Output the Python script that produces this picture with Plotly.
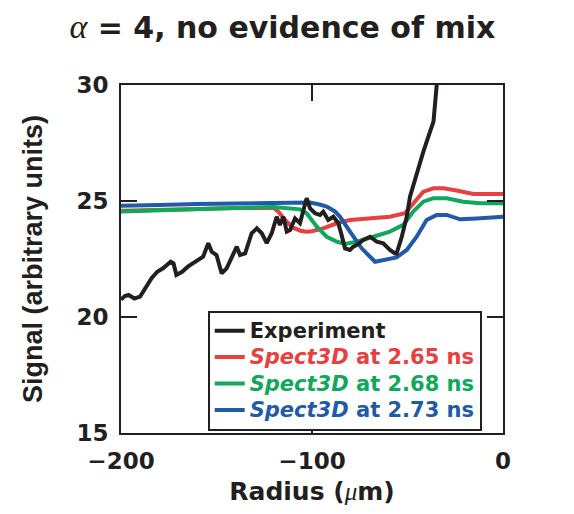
import plotly.graph_objects as go

# experimento (preto)
exp_x = [-200, -198, -196, -193, -190, -187, -184, -181, -178, -174, -172.5, -171, -168, -165, -161, -157,
         -154.3, -152.5, -150, -147.3, -144.7, -142, -139.4, -137.7, -135, -131.6, -128.9, -126.3, -123.7,
         -121.1, -118.5, -116.8, -115, -113.2, -111.5, -108.9, -106.3, -102.8, -101, -98.4, -95.8, -94.1,
         -91.5, -88.8, -86.2, -84.5, -82.7, -80.1, -78.4, -76.6, -73.1, -69.6, -66.1, -62.7, -59.2, -56.5,
         -55.7, -53, -50.4, -48.7, -47, -44.3, -41.7, -38.2, -36.4, -34.7, -34]
exp_y = [20.75, 20.9, 20.95, 20.8, 20.88, 21.3, 21.67, 21.95, 22.1, 22.38, 22.31, 21.81, 21.95, 22.17, 22.38, 22.6,
         23.18, 22.81, 22.67, 21.88, 22.1, 22.53, 23.03, 22.67, 22.74, 23.61, 23.82, 23.61, 23.18,
         23.61, 24.32, 23.97, 24.32, 23.68, 23.75, 24.25, 24.04, 25.12, 24.68, 24.47, 24.4, 24.54,
         24.18, 24.32, 24.04, 23.53, 22.96, 22.89, 23.03, 23.1, 23.32, 23.46, 23.25, 23.18, 22.89, 22.74,
         22.74, 23.46, 24.32, 25.19, 25.7, 26.41, 27.13, 27.99, 28.42, 30.0, 30.5]

# Spect3D 2.65 ns (vermelho)
r265_x = [-200, -180, -160, -140, -125, -120, -117.6, -114.1, -110, -106, -103, -100, -94.1, -87.1, -80.1,
          -68, -59.2, -51.3, -47, -41.7, -36.4, -31.2, -24.3, -15.5, -8, 0]
r265_y = [24.58, 24.6, 24.65, 24.7, 24.72, 24.7, 24.54, 24.18, 23.85, 23.72, 23.68, 23.7, 23.82, 24.04, 24.18,
          24.25, 24.32, 24.47, 24.9, 25.4, 25.55, 25.55, 25.45, 25.3, 25.3, 25.3]

# Spect3D 2.68 ns (verde)
r268_x = [-200, -190, -180, -160, -140, -120, -111.5, -106.3, -102.8, -97.5, -92.3, -87.1, -82.7, -76.6,
          -67.9, -59.2, -52.2, -47, -41.7, -36.4, -29.5, -20.8, -12, 0]
r268_y = [24.55, 24.58, 24.6, 24.65, 24.7, 24.74, 24.7, 24.64, 24.47, 23.89, 23.46, 23.25, 23.15, 23.25,
          23.46, 23.68, 23.97, 24.54, 24.97, 25.12, 25.12, 24.97, 24.9, 24.9]

# Spect3D 2.73 ns (azul)
r273_x = [-200, -190, -180, -160, -140, -120, -105, -101, -96, -92.3, -88, -85.3, -80.1, -74, -67, -60.9,
          -55.7, -50.4, -45.2, -40, -34.7, -29.5, -22.5, -13.8, 0]
r273_y = [24.8, 24.8, 24.83, 24.87, 24.9, 24.93, 24.96, 24.93, 24.85, 24.76, 24.55, 24.32, 23.68, 22.96,
          22.38, 22.46, 22.57, 22.89, 23.46, 24.18, 24.4, 24.4, 24.21, 24.25, 24.32]

preto = '#231f20'
vermelho = '#e8403f'
verde = '#10a85a'
azul = '#1f5aab'
fonte = 'DejaVu Sans'
serif = "font-family:Liberation Serif;font-weight:normal"

# texto da legenda maior que a fonte da legenda, para as linhas ficarem mais juntas
def nome(cor, texto):
    return "<span style='color:%s;font-size:21px'>%s</span>" % (cor, texto)

fig = go.Figure()
fig.add_trace(go.Scatter(x=r265_x, y=r265_y, mode='lines', name=nome(vermelho, '<i>Spect3D</i> at 2.65 ns'),
                         line=dict(color=vermelho, width=4), legendrank=2))
fig.add_trace(go.Scatter(x=r268_x, y=r268_y, mode='lines', name=nome(verde, '<i>Spect3D</i> at 2.68 ns'),
                         line=dict(color=verde, width=4), legendrank=3))
fig.add_trace(go.Scatter(x=r273_x, y=r273_y, mode='lines', name=nome(azul, '<i>Spect3D</i> at 2.73 ns'),
                         line=dict(color=azul, width=4), legendrank=4))
fig.add_trace(go.Scatter(x=exp_x, y=exp_y, mode='lines', name=nome(preto, 'Experiment'),
                         line=dict(color=preto, width=4), legendrank=1))

# a pagina tem 8px de margem no body, por isso tudo deslocado 8px
fig.update_layout(
    width=574, height=514,
    margin=dict(l=113, r=79, t=77, b=89),
    paper_bgcolor='white', plot_bgcolor='white',
    font=dict(family=fonte, color=preto, size=20, weight='bold'),
    title=dict(text="<span style='%s;font-size:34px'><i>α</i></span> = 4, no evidence of mix" % serif,
               x=0.478, xanchor='center', y=0.962, yanchor='middle',
               font=dict(family=fonte, size=30, weight='bold', color=preto)),
    showlegend=True,
    legend=dict(x=0.227, y=0.352, xanchor='left', yanchor='top',
                bgcolor='white', bordercolor=preto, borderwidth=2,
                font=dict(family=fonte, size=18, weight='bold', color=preto),
                tracegroupgap=0, itemwidth=30),
)

fig.update_xaxes(range=[-200, 0], tickvals=[-200, -100, 0], ticktext=['\u2212200', '\u2212100', '0'],
                 showgrid=False, zeroline=False, showline=True, linecolor=preto, linewidth=2,
                 mirror='ticks', ticks='inside', ticklen=16, tickwidth=2, tickcolor=preto,
                 tickfont=dict(family=fonte, size=23, weight='bold'), ticklabelstandoff=6,
                 title=dict(text="Radius (<span style='%s'><i>μ</i></span>m)" % serif,
                            font=dict(family=fonte, size=25, weight='bold'), standoff=10))
fig.update_yaxes(range=[15, 30], tickvals=[15, 20, 25, 30],
                 showgrid=False, zeroline=False, showline=True, linecolor=preto, linewidth=2,
                 mirror='ticks', ticks='inside', ticklen=16, tickwidth=2, tickcolor=preto,
                 tickfont=dict(family=fonte, size=23, weight='bold'), ticklabelstandoff=6,
                 title=dict(text='Signal (arbitrary units)',
                            font=dict(family='Liberation Sans', size=27, weight='bold'), standoff=26))

fig.write_html("out.html")
